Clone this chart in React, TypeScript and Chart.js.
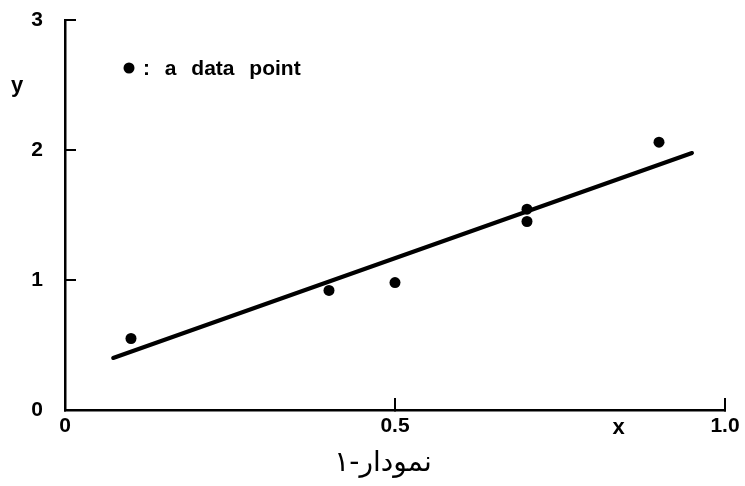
import React, { useEffect, useRef } from "react";
import { Chart, registerables } from "chart.js";

Chart.register(...registerables);

// Data
const pointX = [0.1, 0.4, 0.5, 0.7, 0.7, 0.9];
const pointY = [0.55, 0.92, 0.98, 1.545, 1.45, 2.06];
const lineX = [0.073, 0.95];
const lineY = [0.4, 1.977];
const xTickValues = [0, 0.5, 1.0];
const xTickLabels = ["0", "0.5", "1.0"];
const yTickLabels = ["0", "1", "2", "3"];
const legendLabel = ": a data point";
const xTitle = "x";
const yTitle = "y";
const caption = "نمودار-۱";

const TICK_FONT = "Liberation Sans, Arial, Helvetica, sans-serif";

const extrasPlugin = {
  id: "extras",
  afterDraw(chart: any) {
    const ctx = chart.ctx as CanvasRenderingContext2D;
    const xs = chart.scales.x;
    ctx.save();
    ctx.fillStyle = "#000";
    // legend
    ctx.beginPath();
    ctx.arc(129, 68, 5.5, 0, Math.PI * 2);
    ctx.fill();
    ctx.font = `bold 21px ${TICK_FONT}`;
    ctx.textBaseline = "middle";
    ctx.textAlign = "left";
    (ctx as any).wordSpacing = "9px";
    ctx.fillText(legendLabel, 143, 69);
    (ctx as any).wordSpacing = "0px";
    // axis titles
    ctx.font = `bold 22px ${TICK_FONT}`;
    ctx.textAlign = "center";
    ctx.fillText(xTitle, xs.getPixelForValue(0.839), 428);
    ctx.fillText(yTitle, 17, 86);
    // caption
    ctx.font = `28px "DejaVu Sans", sans-serif`;
    ctx.fillText(caption, 383, 464);
    ctx.restore();
  },
};

const zeroPad = (s: any) => {
  s.paddingTop = 0;
  s.paddingBottom = 0;
  s.paddingLeft = 0;
  s.paddingRight = 0;
};

export default function App() {
  const ref = useRef<HTMLCanvasElement | null>(null);
  useEffect(() => {
    document.body.style.margin = "0";
    const canvas = ref.current!;
    const chart = new Chart(canvas, {
      type: "scatter",
      data: {
        datasets: [
          {
            type: "line",
            data: lineX.map((x, i) => ({ x, y: lineY[i] })),
            borderColor: "#000",
            borderWidth: 4,
            pointRadius: 0,
            borderCapStyle: "round",
          } as any,
          {
            data: pointX.map((x, i) => ({ x, y: pointY[i] })),
            backgroundColor: "#000",
            borderColor: "#000",
            pointRadius: 5.5,
            borderWidth: 0,
          },
        ],
      },
      options: {
        responsive: false,
        animation: false,
        layout: { padding: { top: 20, right: 20, left: 0, bottom: 0 } },
        plugins: {
          legend: { display: false },
          tooltip: { enabled: false },
          title: { display: false },
        },
        scales: {
          x: {
            type: "linear",
            min: 0,
            max: 1,
            afterBuildTicks: (s: any) => {
              s.ticks = xTickValues.map((v) => ({ value: v }));
            },
            afterFit: (s: any) => {
              s.height = 76;
              zeroPad(s);
            },
            border: { display: true, color: "#000", width: 2.5 },
            grid: {
              drawOnChartArea: false,
              drawTicks: true,
              tickLength: -12,
              color: "#000",
              lineWidth: 2,
            },
            ticks: {
              padding: 16,
              color: "#000",
              font: { family: TICK_FONT, size: 21, weight: "bold" },
              callback: (v: any, i: number) => xTickLabels[i],
              maxRotation: 0,
              autoSkip: false,
            },
          },
          y: {
            type: "linear",
            min: 0,
            max: 3,
            afterBuildTicks: (s: any) => {
              s.ticks = yTickLabels.map((_, i) => ({ value: i }));
            },
            afterFit: (s: any) => {
              s.width = 65;
              zeroPad(s);
            },
            border: { display: true, color: "#000", width: 2.5 },
            grid: {
              drawOnChartArea: false,
              drawTicks: true,
              tickLength: -11,
              color: "#000",
              lineWidth: 2,
            },
            ticks: {
              padding: 33,
              color: "#000",
              font: { family: TICK_FONT, size: 21, weight: "bold" },
              callback: (v: any, i: number) => yTickLabels[i],
              autoSkip: false,
            },
          },
        },
      },
      plugins: [extrasPlugin],
    });
    return () => chart.destroy();
  }, []);
  return (
    <div style={{ position: "absolute", left: 0, top: 0, width: 745, height: 486, background: "#fff" }}>
      <canvas ref={ref} width={745} height={486} />
    </div>
  );
}
